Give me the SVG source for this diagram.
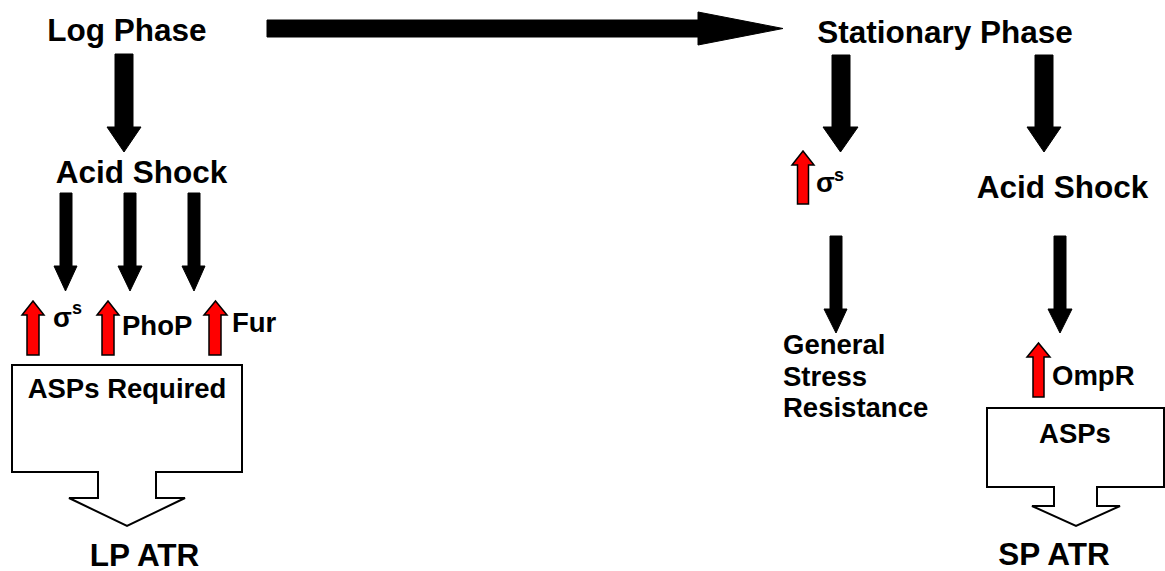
<svg xmlns="http://www.w3.org/2000/svg" width="1165" height="571" viewBox="0 0 1165 571">
<style>
text{font-family:"Liberation Sans",Arial,sans-serif;font-weight:bold;fill:#000}
.big{font-size:31.5px}
.med{font-size:27.5px}
.sup{font-size:18px}
.blk{fill:#000;stroke:#000;stroke-width:1}
.red{fill:#ff0000;stroke:#000;stroke-width:1.5}
.box{fill:#fff;stroke:#000;stroke-width:2}
</style>
<rect width="1165" height="571" fill="#fff"/>
<g id="connectors">
<polygon class="blk" points="267,20 698,20 698,12 783,28.5 698,45 698,37 267,37"/>
<polygon class="blk" points="115,54 133,54 133,127 141,127 124,152 107,127 115,127"/>
<polygon class="blk" points="60,193 72,193 72,266 77,266 65.5,291 54,266 60,266"/>
<polygon class="blk" points="124,193 136,193 136,266 142,266 130,291 118,266 124,266"/>
<polygon class="blk" points="188,193 200,193 200,266 205,266 194,291 182,266 188,266"/>
<polygon class="blk" points="832,55 850,55 850,127 858,127 840.5,152 823,127 832,127"/>
<polygon class="blk" points="1035,55 1053,55 1053,127 1061,127 1044,152 1027,127 1035,127"/>
<polygon class="blk" points="830,236 842,236 842,309 847,309 836,333 824,309 830,309"/>
<polygon class="blk" points="1054,236 1066,236 1066,309 1072,309 1060,333 1048,309 1054,309"/>
<polygon class="red" points="27,355 39,355 39,315 44,315 33,301 22,315 27,315"/>
<polygon class="red" points="102,355 114,355 114,315 119,315 108,301 97,315 102,315"/>
<polygon class="red" points="209,355 221,355 221,315 227,315 215.5,301 204,315 209,315"/>
<polygon class="red" points="797.5,204 808.5,204 808.5,165 814,165 803,151 792,165 797.5,165"/>
<polygon class="red" points="1033,397 1044,397 1044,357 1050,357 1038.5,343 1027,357 1033,357"/>
</g>
<g id="log-phase"><text class="big" x="127" y="41" text-anchor="middle">Log Phase</text></g>
<g id="stationary-phase"><text class="big" x="945" y="43" text-anchor="middle">Stationary Phase</text></g>
<g id="acid-shock-left"><text class="big" x="141.5" y="183" text-anchor="middle">Acid Shock</text></g>
<g id="acid-shock-right"><text class="big" x="1062.5" y="198" text-anchor="middle">Acid Shock</text></g>
<g id="sigma-left"><text class="med" x="53" y="327">σ</text><text class="sup" x="72" y="314">s</text></g>
<g id="phop"><text class="med" x="122" y="335">PhoP</text></g>
<g id="fur"><text class="med" x="232" y="332">Fur</text></g>
<g id="sigma-right"><text class="med" x="816" y="192">σ</text><text class="sup" x="834" y="181">s</text></g>
<g id="ompr"><text class="med" x="1052" y="385">OmpR</text></g>
<g id="general-stress">
<text class="med" x="783" y="354">General</text>
<text class="med" x="783" y="386">Stress</text>
<text class="med" x="783" y="417">Resistance</text>
</g>
<g id="asps-required">
<polygon class="box" points="12,365 242,365 242,472 156,472 156,498 185,498 127,526 69,498 98,498 98,472 12,472"/>
<text class="med" x="127" y="398" text-anchor="middle">ASPs Required</text>
</g>
<g id="asps">
<polygon class="box" points="987,408 1164,408 1164,487 1097,487 1097,506 1120,506 1076,526 1032,506 1054,506 1054,487 987,487"/>
<text class="med" x="1075" y="443" text-anchor="middle">ASPs</text>
</g>
<g id="lp-atr"><text class="big" x="144.5" y="566" text-anchor="middle">LP ATR</text></g>
<g id="sp-atr"><text class="big" x="1054" y="565" text-anchor="middle">SP ATR</text></g>
</svg>
